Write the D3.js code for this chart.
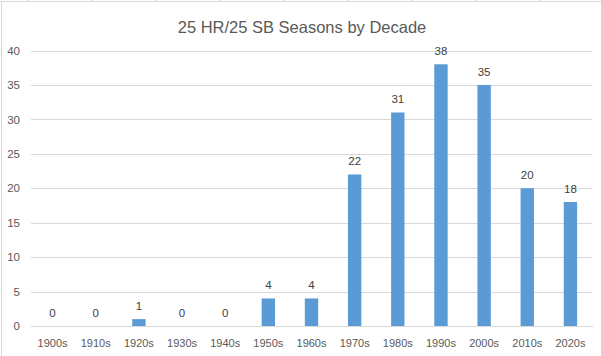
<!DOCTYPE html>
<html><head><meta charset="utf-8">
<script src="https://cdn.jsdelivr.net/npm/d3@7"></script>
<style>body{margin:0;background:#fff}svg{display:block}text{font-family:"Liberation Sans",Arial,sans-serif}</style>
</head><body><svg id="c" width="601" height="356"></svg>
<script>
const title = "25 HR/25 SB Seasons by Decade";
const decades = ["1900s","1910s","1920s","1930s","1940s","1950s","1960s","1970s","1980s","1990s","2000s","2010s","2020s"];
const seasons = [0,0,1,0,0,4,4,22,31,38,35,20,18];
const yTicks = [0,5,10,15,20,25,30,35,40];

const svg = d3.select("#c");
const W = 601, H = 356;
const m = {left:31, right:9, top:50.5, bottom:30};
const x = d3.scaleBand().domain(decades).range([m.left, W - m.right]).paddingInner(0.69).paddingOuter(0.345);
const y = d3.scaleLinear().domain([0,40]).range([H - m.bottom, m.top]);

// chart border (spreadsheet frame)
svg.append("line").attr("x1",0).attr("x2",W).attr("y1",1.5).attr("y2",1.5).attr("stroke","#d9d9d9").attr("stroke-width",1);
svg.append("line").attr("x1",1.5).attr("x2",1.5).attr("y1",1).attr("y2",H).attr("stroke","#d9d9d9").attr("stroke-width",1);
[27,91,155,219,283,347,411,475,539].forEach(px=>{
  svg.append("line").attr("x1",px+0.5).attr("x2",px+0.5).attr("y1",0).attr("y2",1).attr("stroke","#c8c8c8");
});

svg.append("text").attr("x",302).attr("y",33).attr("text-anchor","middle")
  .attr("font-size",16.5).attr("fill","#595959").text(title);

// gridlines
const yAxis = d3.axisLeft(y).tickValues(yTicks).tickSize(-(W - m.left - m.right)).tickPadding(11);
const ga = svg.append("g").attr("transform",`translate(${m.left},0)`).call(yAxis);
ga.select(".domain").remove();
ga.selectAll(".tick line").attr("stroke","#d9d9d9").attr("shape-rendering","crispEdges");
ga.selectAll(".tick text").attr("fill","#595959").attr("font-size",11.5).style("font-family","'Liberation Sans',Arial,sans-serif");

// bars
svg.append("g").selectAll("rect").data(seasons).join("rect")
  .attr("x",(d,i)=>x(decades[i])).attr("width",x.bandwidth())
  .attr("y",d=>y(d)).attr("height",d=>y(0)-y(d)).attr("fill","#5b9bd5");

// x axis
const xAxis = d3.axisBottom(x).tickSize(0).tickPadding(13);
const gx = svg.append("g").attr("transform",`translate(0,${y(0)})`).call(xAxis);
gx.select(".domain").attr("stroke","#d9d9d9").attr("shape-rendering","crispEdges");
gx.selectAll(".tick text").attr("fill","#595959").attr("font-size",11).style("font-family","'Liberation Sans',Arial,sans-serif");

// data labels
svg.append("g").selectAll("text").data(seasons).join("text")
  .attr("x",(d,i)=>x(decades[i])+x.bandwidth()/2).attr("y",d=>y(d)-9)
  .attr("text-anchor","middle").attr("font-size",11.5).attr("fill","#404040").text(d=>d);
</script></body></html>
